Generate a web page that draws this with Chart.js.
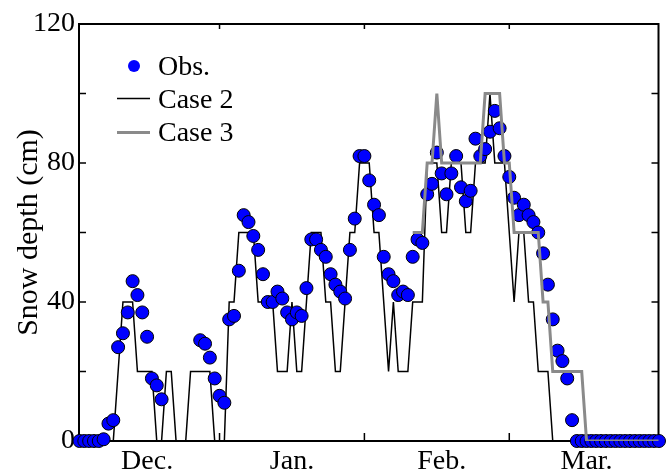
<!DOCTYPE html>
<html>
<head>
<meta charset="utf-8">
<script src="https://cdn.jsdelivr.net/npm/chart.js@4.4.0/dist/chart.umd.min.js"></script>
<style>
  html, body { margin: 0; padding: 0; background: #fff; }
</style>
</head>
<body>
<canvas id="snowChart" width="666" height="473"></canvas>
<script>
// days counted from 1 Dec, one value per day
const obsStartDay = 2
const obsDepth = [
  0, 0, 0, 0, 0, 0.5,
  5, 6, 27, 31, 37, 46, 42, 37, 30, 18, 16, 12,
  null, null, null, null, null, null, null,
  29, 28, 24, 18, 13, 11, 35, 36, 49, 65, 63, 59, 55, 48,
  40, 40, 43, 41, 37, 35, 37, 36, 44, 58, 58, 55, 53, 48, 45, 43, 41, 55, 64, 82,
  82, 75, 68, 65, 53, 48, 46, 42, 43, 42, 53, 58, 57, 71, 74, 83, 77, 71, 77, 82,
  73, 69, 72, 87, 82, 84, 89, 95, 90, 82, 76, 70, 65, 68, 65, 63, 60, 54, 45, 35, 26, 23, 18, 6,
  0, 0, 0, 0, 0, 0, 0, 0, 0, 0, 0, 0, 0, 0, 0, 0, 0, 0
]

const case2StartDay = 2
const case2Depth = [
  0, 0, 0, 0, 0, 0, 0, 0,
  20, 40, 40, 40, 20, 20, 20, 20, 0, 0,
  20, 20, 0, 0, 0, 20, 20, 20, 20, 20,
  0, 0, 0, 40, 40, 60, 60, 60, 60, 40,
  40, 40, 40, 20, 20, 20, 40, 20, 20, 40,
  60, 60, 60, 40, 40, 20, 20, 40, 60, 60,
  80, 80, 80, 60, 60, 40, 20, 40, 20, 20,
  20, 40, 40, 40, 80, 80, 80, 60, 60, 80,
  80, 80, 60, 60, 80, 80, 80, 100, 80, 80,
  80, 60, 40, 60, 60, 40, 40, 20, 20, 20,
  0, 0, 0, 0, 0, 0, 0, 0, 0, 0, 0, 0, 0, 0, 0, 0, 0, 0, 0, 0, 0, 0, 0
]

const case3StartDay = 71
const case3Depth = [
  60, 60, 60, 80, 80, 100, 80, 80, 80, 80,
  80, 80, 80, 80, 80, 100, 100, 100, 100, 80,
  80, 60, 60, 60, 60, 60, 60, 40, 40, 20,
  20, 20, 20, 20, 20, 20,
  0, 0, 0, 0, 0, 0, 0, 0, 0, 0, 0, 0, 0, 0, 0, 0
]

const monthLabels = ['Dec.', 'Jan.', 'Feb.', 'Mar.']
const monthLabelDays = [16, 46, 77, 107]
const monthTickDays = [31, 61, 91]
const depthMajor = [0, 40, 80, 120]
const depthMinor = [20, 60, 100]

const serif = "'Liberation Serif', 'Times New Roman', serif"

function toPoints(start, values) {
  const pts = []
  values.forEach((v, i) => {
    if (v !== null) pts.push({x: start + i, y: v})
  })
  return pts
}

// frame box + inward ticks
const frameTicks = {
  id: 'frameTicks',
  beforeDatasetsDraw(chart) {
    const {ctx, chartArea: a, scales: {x, y}} = chart
    ctx.save()
    ctx.strokeStyle = '#000'
    ctx.lineWidth = 2
    ctx.strokeRect(a.left, a.top, a.right - a.left, a.bottom - a.top)
    ctx.lineWidth = 1.5
    ctx.beginPath()
    monthTickDays.forEach(d => {
      const px = x.getPixelForValue(d)
      ctx.moveTo(px, a.bottom); ctx.lineTo(px, a.bottom - 8)
      ctx.moveTo(px, a.top); ctx.lineTo(px, a.top + 5)
    })
    depthMajor.concat(depthMinor).forEach(v => {
      const py = y.getPixelForValue(v)
      ctx.moveTo(a.left, py); ctx.lineTo(a.left + 7, py)
      ctx.moveTo(a.right, py); ctx.lineTo(a.right - 7, py)
    })
    ctx.stroke()
    ctx.restore()
  }
}

// legend in the upper left corner of the plot
const cornerLegend = {
  id: 'cornerLegend',
  afterDatasetsDraw(chart) {
    const {ctx, chartArea: a} = chart
    const ds = chart.data.datasets
    const x0 = a.left + 38, x1 = a.left + 71, tx = a.left + 79
    ctx.save()
    ctx.font = '28px ' + serif
    ctx.fillStyle = '#000'
    ctx.textBaseline = 'alphabetic'

    ctx.beginPath()
    ctx.arc(a.left + 55, a.top + 42, 6, 0, Math.PI * 2)
    ctx.fillStyle = ds[1].pointBackgroundColor
    ctx.fill()
    ctx.fillStyle = '#000'
    ctx.fillText(ds[1].label, tx, a.top + 50.5)

    ctx.strokeStyle = ds[2].borderColor
    ctx.lineWidth = ds[2].borderWidth
    ctx.beginPath(); ctx.moveTo(x0, a.top + 74.5); ctx.lineTo(x1, a.top + 74.5); ctx.stroke()
    ctx.fillText(ds[2].label, tx, a.top + 84)

    ctx.strokeStyle = ds[0].borderColor
    ctx.lineWidth = ds[0].borderWidth
    ctx.beginPath(); ctx.moveTo(x0, a.top + 108.5); ctx.lineTo(x1, a.top + 108.5); ctx.stroke()
    ctx.fillText(ds[0].label, tx, a.top + 117)
    ctx.restore()
  }
}

const ctx = document.getElementById('snowChart').getContext('2d')

const snowChart = new Chart(ctx, {
  type: 'line',
  data: {
    datasets: [
      {
        label: 'Case 3',
        data: toPoints(case3StartDay, case3Depth),
        borderColor: '#8a8a8a',
        borderWidth: 3,
        pointRadius: 0,
        tension: 0,
        fill: false
      },
      {
        label: 'Obs.',
        data: toPoints(obsStartDay, obsDepth),
        showLine: false,
        pointRadius: 6.5,
        pointBackgroundColor: '#0000ff',
        pointBorderColor: '#000',
        pointBorderWidth: 1,
        clip: false
      },
      {
        label: 'Case 2',
        data: toPoints(case2StartDay, case2Depth),
        borderColor: '#000',
        borderWidth: 1.5,
        pointRadius: 0,
        tension: 0,
        fill: false
      }
    ]
  },
  options: {
    responsive: false,
    animation: false,
    devicePixelRatio: 1,
    layout: { padding: { left: 0, right: 2, top: 24, bottom: 0 } },
    plugins: {
      legend: { display: false },
      tooltip: { enabled: false }
    },
    scales: {
      x: {
        type: 'linear',
        min: 1.9,
        max: 121.9,
        grid: { display: false },
        border: { display: false },
        afterBuildTicks: scale => {
          scale.ticks = monthLabelDays.map(v => ({ value: v }))
        },
        afterFit: scale => { scale.height = 32 },
        ticks: {
          autoSkip: false,
          maxRotation: 0,
          padding: -4,
          color: '#000',
          font: { family: serif, size: 28 },
          callback: v => monthLabels[monthLabelDays.indexOf(v)]
        }
      },
      y: {
        min: 0,
        max: 120,
        grid: { display: false, drawTicks: false },
        border: { display: false },
        afterFit: scale => { scale.width = 79 },
        ticks: {
          stepSize: 40,
          padding: 4,
          color: '#000',
          font: { family: serif, size: 28 }
        },
        title: {
          display: true,
          text: 'Snow depth (cm)',
          color: '#000',
          padding: { top: 11, bottom: 0 },
          font: { family: serif, size: 30 }
        }
      }
    }
  },
  plugins: [frameTicks, cornerLegend]
})
</script>
</body>
</html>
